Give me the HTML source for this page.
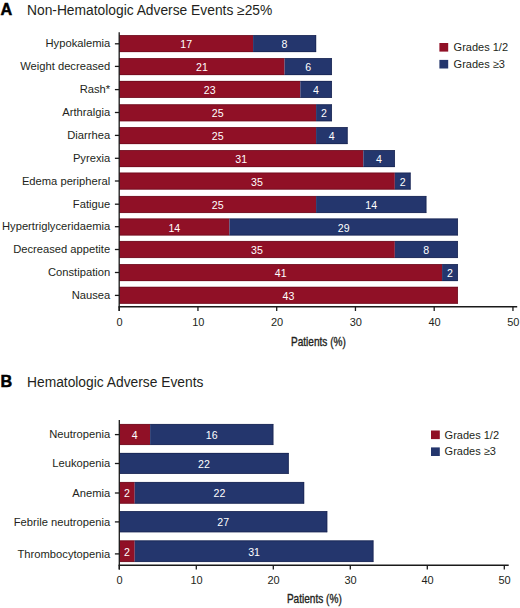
<!DOCTYPE html>
<html><head><meta charset="utf-8"><style>
html,body{margin:0;padding:0;background:#fff;}
svg{display:block;}
text{font-family:"Liberation Sans",sans-serif;}
.v{font-size:10.6px;fill:#fff;text-anchor:middle;}
.yl{font-size:11.2px;fill:#231f20;text-anchor:end;}
.xt{font-size:11px;fill:#231f20;text-anchor:middle;}
.lg{font-size:11px;fill:#231f20;}
.L{font-size:16.2px;font-weight:bold;fill:#000;stroke:#000;stroke-width:0.5;}
.T{font-size:13.8px;fill:#231f20;}
.P{font-size:12px;fill:#231f20;stroke:#231f20;stroke-width:0.35;}
.er{stroke:#62091a;stroke-width:0.6;fill:none;}
.eb{stroke:#141f48;stroke-width:0.6;fill:none;}
.ax{stroke:#1a1a1a;stroke-width:1.3;}
.ax2{stroke:#1a1a1a;stroke-width:1.5;}
</style></head><body>
<svg width="520" height="608" viewBox="0 0 520 608">
<rect x="119.20" y="35.20" width="133.88" height="16.80" fill="#901026"/>
<path d="M119.20 35.50H253.07M119.20 51.70H253.07" class="er"/>
<rect x="253.07" y="35.20" width="63.00" height="16.80" fill="#24366d"/>
<path d="M253.07 35.50H316.07M253.07 51.70H316.07" class="eb"/>
<path d="M315.77 35.20V52.00" class="eb"/>
<text x="186.14" y="48.10" class="v">17</text>
<text x="284.57" y="48.10" class="v">8</text>
<line x1="114.9" y1="43.80" x2="119.20" y2="43.80" class="ax"/>
<text x="110.2" y="47.45" class="yl">Hypokalemia</text>
<rect x="119.20" y="58.20" width="165.38" height="16.80" fill="#901026"/>
<path d="M119.20 58.50H284.57M119.20 74.70H284.57" class="er"/>
<rect x="284.57" y="58.20" width="47.25" height="16.80" fill="#24366d"/>
<path d="M284.57 58.50H331.82M284.57 74.70H331.82" class="eb"/>
<path d="M331.52 58.20V75.00" class="eb"/>
<text x="201.89" y="71.10" class="v">21</text>
<text x="308.20" y="71.10" class="v">6</text>
<line x1="114.9" y1="66.40" x2="119.20" y2="66.40" class="ax"/>
<text x="110.2" y="70.05" class="yl">Weight decreased</text>
<rect x="119.20" y="81.00" width="181.12" height="16.80" fill="#901026"/>
<path d="M119.20 81.30H300.32M119.20 97.50H300.32" class="er"/>
<rect x="300.32" y="81.00" width="31.50" height="16.80" fill="#24366d"/>
<path d="M300.32 81.30H331.82M300.32 97.50H331.82" class="eb"/>
<path d="M331.52 81.00V97.80" class="eb"/>
<text x="209.76" y="93.90" class="v">23</text>
<text x="316.07" y="93.90" class="v">4</text>
<line x1="114.9" y1="89.60" x2="119.20" y2="89.60" class="ax"/>
<text x="110.2" y="93.25" class="yl">Rash*</text>
<rect x="119.20" y="104.40" width="196.88" height="16.80" fill="#901026"/>
<path d="M119.20 104.70H316.07M119.20 120.90H316.07" class="er"/>
<rect x="316.07" y="104.40" width="15.75" height="16.80" fill="#24366d"/>
<path d="M316.07 104.70H331.82M316.07 120.90H331.82" class="eb"/>
<path d="M331.52 104.40V121.20" class="eb"/>
<text x="217.64" y="117.30" class="v">25</text>
<text x="323.95" y="117.30" class="v">2</text>
<line x1="114.9" y1="112.50" x2="119.20" y2="112.50" class="ax"/>
<text x="110.2" y="116.15" class="yl">Arthralgia</text>
<rect x="119.20" y="127.20" width="196.88" height="16.80" fill="#901026"/>
<path d="M119.20 127.50H316.07M119.20 143.70H316.07" class="er"/>
<rect x="316.07" y="127.20" width="31.50" height="16.80" fill="#24366d"/>
<path d="M316.07 127.50H347.57M316.07 143.70H347.57" class="eb"/>
<path d="M347.27 127.20V144.00" class="eb"/>
<text x="217.64" y="140.10" class="v">25</text>
<text x="331.82" y="140.10" class="v">4</text>
<line x1="114.9" y1="135.40" x2="119.20" y2="135.40" class="ax"/>
<text x="110.2" y="139.05" class="yl">Diarrhea</text>
<rect x="119.20" y="150.20" width="244.12" height="16.80" fill="#901026"/>
<path d="M119.20 150.50H363.32M119.20 166.70H363.32" class="er"/>
<rect x="363.32" y="150.20" width="31.50" height="16.80" fill="#24366d"/>
<path d="M363.32 150.50H394.82M363.32 166.70H394.82" class="eb"/>
<path d="M394.52 150.20V167.00" class="eb"/>
<text x="241.26" y="163.10" class="v">31</text>
<text x="379.07" y="163.10" class="v">4</text>
<line x1="114.9" y1="158.30" x2="119.20" y2="158.30" class="ax"/>
<text x="110.2" y="161.95" class="yl">Pyrexia</text>
<rect x="119.20" y="172.70" width="275.62" height="16.80" fill="#901026"/>
<path d="M119.20 173.00H394.82M119.20 189.20H394.82" class="er"/>
<rect x="394.82" y="172.70" width="15.75" height="16.80" fill="#24366d"/>
<path d="M394.82 173.00H410.57M394.82 189.20H410.57" class="eb"/>
<path d="M410.27 172.70V189.50" class="eb"/>
<text x="257.01" y="185.60" class="v">35</text>
<text x="402.70" y="185.60" class="v">2</text>
<line x1="114.9" y1="181.00" x2="119.20" y2="181.00" class="ax"/>
<text x="110.2" y="184.65" class="yl">Edema peripheral</text>
<rect x="119.20" y="196.10" width="196.88" height="16.80" fill="#901026"/>
<path d="M119.20 196.40H316.07M119.20 212.60H316.07" class="er"/>
<rect x="316.07" y="196.10" width="110.25" height="16.80" fill="#24366d"/>
<path d="M316.07 196.40H426.32M316.07 212.60H426.32" class="eb"/>
<path d="M426.02 196.10V212.90" class="eb"/>
<text x="217.64" y="209.00" class="v">25</text>
<text x="371.20" y="209.00" class="v">14</text>
<line x1="114.9" y1="204.20" x2="119.20" y2="204.20" class="ax"/>
<text x="110.2" y="207.85" class="yl">Fatigue</text>
<rect x="119.20" y="218.60" width="110.25" height="16.80" fill="#901026"/>
<path d="M119.20 218.90H229.45M119.20 235.10H229.45" class="er"/>
<rect x="229.45" y="218.60" width="228.38" height="16.80" fill="#24366d"/>
<path d="M229.45 218.90H457.82M229.45 235.10H457.82" class="eb"/>
<path d="M457.52 218.60V235.40" class="eb"/>
<text x="174.32" y="231.50" class="v">14</text>
<text x="343.64" y="231.50" class="v">29</text>
<line x1="114.9" y1="226.70" x2="119.20" y2="226.70" class="ax"/>
<text x="110.2" y="230.35" class="yl">Hypertriglyceridaemia</text>
<rect x="119.20" y="241.10" width="275.62" height="16.80" fill="#901026"/>
<path d="M119.20 241.40H394.82M119.20 257.60H394.82" class="er"/>
<rect x="394.82" y="241.10" width="63.00" height="16.80" fill="#24366d"/>
<path d="M394.82 241.40H457.82M394.82 257.60H457.82" class="eb"/>
<path d="M457.52 241.10V257.90" class="eb"/>
<text x="257.01" y="254.00" class="v">35</text>
<text x="426.32" y="254.00" class="v">8</text>
<line x1="114.9" y1="249.50" x2="119.20" y2="249.50" class="ax"/>
<text x="110.2" y="253.15" class="yl">Decreased appetite</text>
<rect x="119.20" y="264.20" width="322.88" height="16.80" fill="#901026"/>
<path d="M119.20 264.50H442.07M119.20 280.70H442.07" class="er"/>
<rect x="442.07" y="264.20" width="15.75" height="16.80" fill="#24366d"/>
<path d="M442.07 264.50H457.82M442.07 280.70H457.82" class="eb"/>
<path d="M457.52 264.20V281.00" class="eb"/>
<text x="280.64" y="277.10" class="v">41</text>
<text x="449.95" y="277.10" class="v">2</text>
<line x1="114.9" y1="272.50" x2="119.20" y2="272.50" class="ax"/>
<text x="110.2" y="276.15" class="yl">Constipation</text>
<rect x="119.20" y="286.90" width="338.62" height="16.80" fill="#901026"/>
<path d="M119.20 287.20H457.82M119.20 303.40H457.82" class="er"/>
<path d="M457.52 286.90V303.70" class="er"/>
<text x="288.51" y="299.80" class="v">43</text>
<line x1="114.9" y1="295.40" x2="119.20" y2="295.40" class="ax"/>
<text x="110.2" y="299.05" class="yl">Nausea</text>
<line x1="119.20" y1="32.20" x2="119.20" y2="311.00" class="ax"/>
<line x1="118.50" y1="306.80" x2="517.20" y2="306.80" class="ax2"/>
<line x1="119.20" y1="306.80" x2="119.20" y2="311.00" class="ax"/>
<text x="119.50" y="325.60" class="xt">0</text>
<line x1="197.95" y1="306.80" x2="197.95" y2="311.00" class="ax"/>
<text x="198.25" y="325.60" class="xt">10</text>
<line x1="276.70" y1="306.80" x2="276.70" y2="311.00" class="ax"/>
<text x="277.00" y="325.60" class="xt">20</text>
<line x1="355.45" y1="306.80" x2="355.45" y2="311.00" class="ax"/>
<text x="355.75" y="325.60" class="xt">30</text>
<line x1="434.20" y1="306.80" x2="434.20" y2="311.00" class="ax"/>
<text x="434.50" y="325.60" class="xt">40</text>
<line x1="512.95" y1="306.80" x2="512.95" y2="311.00" class="ax"/>
<text x="513.25" y="325.60" class="xt">50</text>
<rect x="439.4" y="43.0" width="8.8" height="8.6" fill="#901026"/>
<rect x="439.4" y="59.9" width="8.8" height="8.6" fill="#24366d"/>
<text x="453.59999999999997" y="51.0" class="lg">Grades 1/2</text>
<text x="453.59999999999997" y="67.9" class="lg">Grades ≥3</text>
<text x="0.6" y="14.8" class="L">A</text>
<text x="27" y="14.8" class="T">Non-Hematologic Adverse Events ≥25%</text>
<text x="291" y="345.6" class="P" transform="translate(291 345.6) scale(0.84 1) translate(-291 -345.6)">Patients (%)</text>
<rect x="119.30" y="424.10" width="30.80" height="20.80" fill="#901026"/>
<path d="M119.30 424.40H150.10M119.30 444.60H150.10" class="er"/>
<rect x="150.10" y="424.10" width="123.20" height="20.80" fill="#24366d"/>
<path d="M150.10 424.40H273.30M150.10 444.60H273.30" class="eb"/>
<path d="M273.00 424.10V444.90" class="eb"/>
<text x="134.70" y="439.00" class="v">4</text>
<text x="211.70" y="439.00" class="v">16</text>
<line x1="114.9" y1="434.60" x2="119.30" y2="434.60" class="ax"/>
<text x="110.2" y="438.25" class="yl">Neutropenia</text>
<rect x="119.30" y="453.00" width="169.40" height="20.80" fill="#24366d"/>
<path d="M119.30 453.30H288.70M119.30 473.50H288.70" class="eb"/>
<path d="M288.40 453.00V473.80" class="eb"/>
<text x="204.00" y="467.90" class="v">22</text>
<line x1="114.9" y1="463.50" x2="119.30" y2="463.50" class="ax"/>
<text x="110.2" y="467.15" class="yl">Leukopenia</text>
<rect x="119.30" y="482.10" width="15.40" height="21.50" fill="#901026"/>
<path d="M119.30 482.40H134.70M119.30 503.30H134.70" class="er"/>
<rect x="134.70" y="482.10" width="169.40" height="21.50" fill="#24366d"/>
<path d="M134.70 482.40H304.10M134.70 503.30H304.10" class="eb"/>
<path d="M303.80 482.10V503.60" class="eb"/>
<text x="127.00" y="497.35" class="v">2</text>
<text x="219.40" y="497.35" class="v">22</text>
<line x1="114.9" y1="493.00" x2="119.30" y2="493.00" class="ax"/>
<text x="110.2" y="496.65" class="yl">Anemia</text>
<rect x="119.30" y="511.20" width="207.90" height="21.00" fill="#24366d"/>
<path d="M119.30 511.50H327.20M119.30 531.90H327.20" class="eb"/>
<path d="M326.90 511.20V532.20" class="eb"/>
<text x="223.25" y="526.20" class="v">27</text>
<line x1="114.9" y1="521.90" x2="119.30" y2="521.90" class="ax"/>
<text x="110.2" y="525.55" class="yl">Febrile neutropenia</text>
<rect x="119.30" y="540.50" width="15.40" height="21.40" fill="#901026"/>
<path d="M119.30 540.80H134.70M119.30 561.60H134.70" class="er"/>
<rect x="134.70" y="540.50" width="238.70" height="21.40" fill="#24366d"/>
<path d="M134.70 540.80H373.40M134.70 561.60H373.40" class="eb"/>
<path d="M373.10 540.50V561.90" class="eb"/>
<text x="127.00" y="555.70" class="v">2</text>
<text x="254.05" y="555.70" class="v">31</text>
<line x1="114.9" y1="553.90" x2="119.30" y2="553.90" class="ax"/>
<text x="110.2" y="557.55" class="yl">Thrombocytopenia</text>
<line x1="119.30" y1="420.10" x2="119.30" y2="569.40" class="ax"/>
<line x1="118.60" y1="565.20" x2="508.70" y2="565.20" class="ax2"/>
<line x1="119.30" y1="565.20" x2="119.30" y2="569.40" class="ax"/>
<text x="119.60" y="584.00" class="xt">0</text>
<line x1="196.30" y1="565.20" x2="196.30" y2="569.40" class="ax"/>
<text x="196.60" y="584.00" class="xt">10</text>
<line x1="273.30" y1="565.20" x2="273.30" y2="569.40" class="ax"/>
<text x="273.60" y="584.00" class="xt">20</text>
<line x1="350.30" y1="565.20" x2="350.30" y2="569.40" class="ax"/>
<text x="350.60" y="584.00" class="xt">30</text>
<line x1="427.30" y1="565.20" x2="427.30" y2="569.40" class="ax"/>
<text x="427.60" y="584.00" class="xt">40</text>
<line x1="504.30" y1="565.20" x2="504.30" y2="569.40" class="ax"/>
<text x="504.60" y="584.00" class="xt">50</text>
<rect x="431.0" y="430.5" width="8.8" height="8.6" fill="#901026"/>
<rect x="431.0" y="447.4" width="8.8" height="8.6" fill="#24366d"/>
<text x="444.6" y="438.5" class="lg">Grades 1/2</text>
<text x="444.6" y="455.4" class="lg">Grades ≥3</text>
<text x="0.6" y="387.0" class="L">B</text>
<text x="27" y="387.0" class="T">Hematologic Adverse Events</text>
<text x="286.9" y="602.9" class="P" transform="translate(286.9 602.9) scale(0.84 1) translate(-286.9 -602.9)">Patients (%)</text>
</svg>
</body></html>
